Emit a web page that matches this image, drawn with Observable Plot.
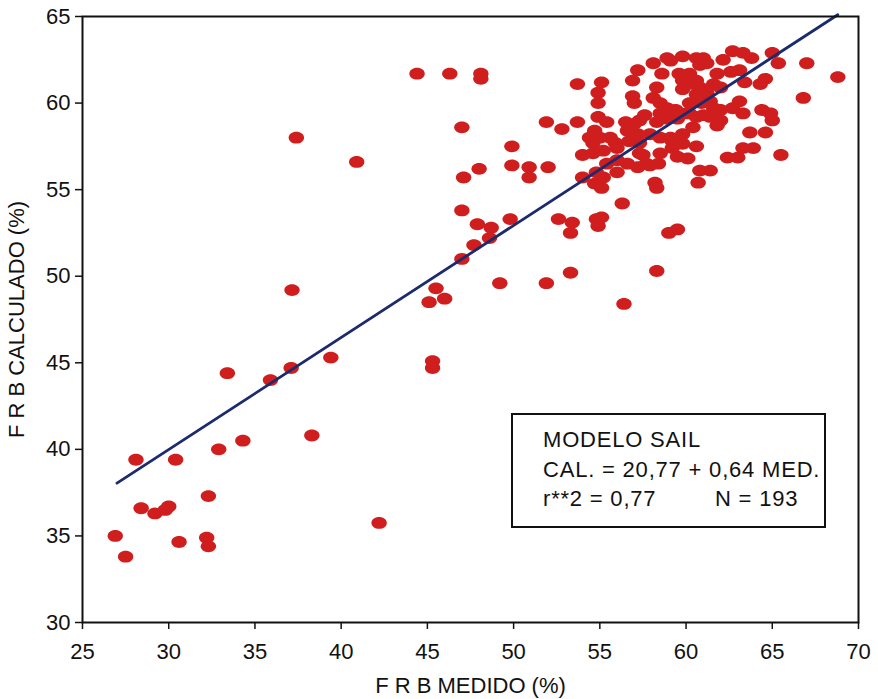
<!DOCTYPE html>
<html>
<head>
<meta charset="utf-8">
<script src="https://cdn.jsdelivr.net/npm/d3@7"></script>
<script src="https://cdn.jsdelivr.net/npm/@observablehq/plot@0.6"></script>
<style>
  html, body { margin: 0; padding: 0; background: #fff; }
  #wrap { position: relative; width: 878px; height: 699px; font-family: "Liberation Sans", Arial, sans-serif; }
  #legend { position: absolute; left: 511px; top: 413px; width: 311px; height: 111px; border: 2px solid #111; background: #fff; font-size: 22px; letter-spacing: 0.8px; color: #111; line-height: 24px; }
  #legend div { position: absolute; white-space: pre; }
</style>
</head>
<body>
<div id="wrap"></div>
<script>
// F R B MEDIDO (%) and F R B CALCULADO (%)
const medido = [
  26.9,27.5,28.1,28.4,29.2,29.8,30.0,30.4,30.6,32.3,32.2,32.3,32.9,33.4,34.3,35.9,37.1,37.15,37.4,38.3,
  39.4,40.9,42.2,44.4,45.1,45.3,45.3,45.5,46.0,46.3,47.0,47.1,47.0,47.0,47.7,47.9,48.1,48.1,48.0,48.7,
  48.6,49.2,49.8,49.9,49.9,50.9,50.9,51.9,52.0,51.9,52.8,53.3,52.6,53.4,53.3,53.7,53.7,54.0,54.0,54.8,
  55.1,54.9,56.3,56.4,58.3,59.0,59.5,58.3,58.2,60.7,55.1,
  65.0,65.35,67.0,68.8,66.8,65.5,64.4,64.9,65.0,63.7,64.6,63.3,63.9,62.4,63.0,60.8,61.4,63.1,62.7,63.3,
  62.0,61.4,60.6,61.8,60.6,63.4,64.3,64.6,61.8,62.6,63.1,62.7,63.3,63.8,62.15,60.6,61.0,60.6,60.8,61.2,61.4,
  55.1,54.9,54.9,57.2,56.9,58.1,58.6,58.9,59.8,60.8,60.2,58.3,59.8,56.9,57.0,58.1,58.5,58.9,60.6,60.9,
  54.9,55.4,54.7,55.0,56.5,57.0,57.6,58.3,58.9,59.4,59.5,60.2,61.0,54.4,54.6,55.6,55.9,56.6,57.2,56.7,
  57.3,57.9,58.5,59.1,59.8,60.4,54.6,55.2,57.3,58.5,59.2,59.5,55.4,56.0,56.6,57.2,57.9,58.4,60.1,54.8,
  55.2,56.0,54.7,56.0,
  59.6,59.8,61.6,62.0,58.5,61.6,60.2,57.3,60.0,62.0,59.8,57.7,59.2,57.5,59.1,61.2,60.4
];
const calculado = [
  35.0,33.8,39.4,36.6,36.3,36.5,36.7,39.4,34.65,37.3,34.9,34.4,40.0,44.4,40.5,44.0,44.7,49.2,58.0,40.8,
  45.3,56.6,35.75,61.7,48.5,45.1,44.7,49.3,48.7,61.7,58.6,55.7,53.8,51.0,51.8,53.0,61.7,61.4,56.2,52.8,
  52.2,49.6,53.3,57.5,56.4,56.3,55.7,49.6,56.3,58.9,58.5,50.2,53.3,53.1,52.5,61.1,58.9,57.0,55.7,53.3,
  53.4,52.9,54.2,48.4,50.3,52.5,52.7,55.1,55.4,55.4,55.1,
  62.9,62.3,62.3,61.5,60.3,57.0,59.6,59.4,59.0,58.3,58.3,57.4,57.4,56.85,56.85,56.1,56.1,60.1,59.7,59.4,
  59.6,59.2,59.2,58.7,57.5,61.2,61.1,61.4,61.7,61.8,61.9,63.0,62.9,62.6,62.5,62.6,62.6,61.3,60.9,60.6,60.1,
  61.2,60.6,60.0,61.9,61.3,62.3,61.7,62.6,62.7,62.2,61.7,60.9,60.8,60.4,60.0,60.3,60.0,59.7,60.5,60.0,
  59.2,58.9,58.4,58.0,58.9,58.8,59.3,58.9,59.1,59.6,59.1,59.4,59.3,58.0,57.7,58.0,57.7,58.4,58.2,57.8,
  57.7,58.2,58.0,58.0,58.2,58.6,57.1,57.25,57.1,57.1,57.4,56.9,56.5,56.7,56.5,56.3,56.4,56.5,56.8,56.0,
  55.7,56.0,55.35,57.4,
  61.7,61.3,61.1,60.9,59.4,59.7,60.0,59.0,59.4,59.0,57.65,56.5,57.8,57.0,62.45,62.3,61.1
];
const xTicks = [25, 30, 35, 40, 45, 50, 55, 60, 65, 70];
const yTicks = [30, 35, 40, 45, 50, 55, 60, 65];
// regression line end points (CAL. = 20,77 + 0,64 MED.) as drawn
const lineMed = [27.0, 68.8];
const lineCal = [38.05, 65.1];
const legendTitle = "MODELO SAIL";
const legendEquation = "CAL. = 20,77 + 0,64 MED.";
const legendR2 = "r**2 = 0,77";
const legendN = "N = 193";

const points = medido.map((m, i) => ({m, c: calculado[i]}));
const line = lineMed.map((m, i) => ({m, c: lineCal[i]}));

const rx = 7.7, ry = 5.9, k = 0.5523;
const ellipse = {
  draw(ctx) {
    ctx.moveTo(rx, 0);
    ctx.bezierCurveTo(rx, k * ry, k * rx, ry, 0, ry);
    ctx.bezierCurveTo(-k * rx, ry, -rx, k * ry, -rx, 0);
    ctx.bezierCurveTo(-rx, -k * ry, -k * rx, -ry, 0, -ry);
    ctx.bezierCurveTo(k * rx, -ry, rx, -k * ry, rx, 0);
    ctx.closePath();
  }
};

const chart = Plot.plot({
  width: 878,
  height: 699,
  marginLeft: 82,
  marginRight: 20,
  marginTop: 16,
  marginBottom: 77,
  style: {fontFamily: "'Liberation Sans', Arial, sans-serif", fontSize: "21px", color: "#111", background: "#fff"},
  x: {domain: [25, 70]},
  y: {domain: [30, 65]},
  marks: [
    Plot.dot(points, {x: "m", y: "c", symbol: ellipse, r: 6, fill: "#d01e1e", stroke: "none"}),
    Plot.line(line, {x: "m", y: "c", stroke: "#1c2a6e", strokeWidth: 2.8}),
    Plot.frame({stroke: "#111", strokeWidth: 2}),
    Plot.axisX({ticks: xTicks, tickSize: 7, tickPadding: 14, strokeWidth: 1.5, fontSize: 22,
      label: "F R B MEDIDO (%)", labelAnchor: "center", labelArrow: "none", labelOffset: 70}),
    Plot.axisY({ticks: yTicks, tickSize: 7, tickPadding: 5, strokeWidth: 1.5, fontSize: 22,
      label: "F R B CALCULADO (%)", labelAnchor: "center", labelArrow: "none", labelOffset: 74})
  ]
});

const wrap = document.getElementById("wrap");
wrap.appendChild(chart);
const legend = document.createElement("div");
legend.id = "legend";
[[legendTitle, 30, 13], [legendEquation, 30, 42.5], [legendR2, 30, 72], [legendN, 202, 72]].forEach(([t, l, tp]) => {
  const d = document.createElement("div");
  d.textContent = t;
  d.style.left = l + "px";
  d.style.top = tp + "px";
  legend.appendChild(d);
});
wrap.appendChild(legend);
</script>
</body>
</html>
